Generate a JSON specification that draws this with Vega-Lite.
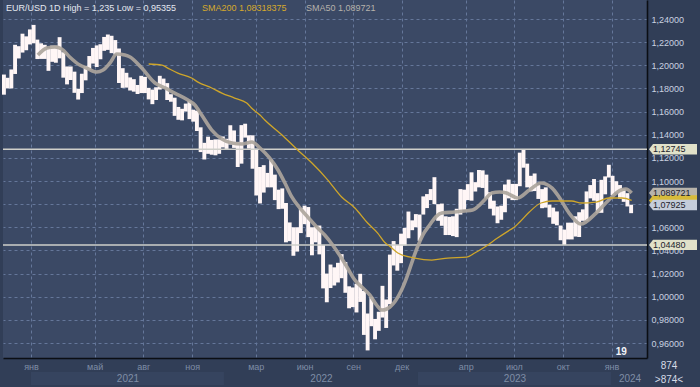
{
  "$schema": "https://vega.github.io/schema/vega-lite/v6.json",
  "width": 644,
  "height": 358,
  "autosize": {"type": "none"},
  "padding": {"left": 3, "top": 0, "right": 53, "bottom": 29},
  "background": "#313e57",
  "config": {
    "view": {"fill": "#3b4965", "stroke": null},
    "font": "Liberation Sans",
    "axis": {"gridColor": "#65779a", "gridDash": [3, 3], "gridWidth": 1, "labelFont": "Liberation Sans", "labelOverlap": false}
  },
  "datasets": {
    "price": [
      {"date": "2020-11-11", "low": 1.1746, "high": 1.1920},
      {"date": "2020-11-18", "low": 1.1800, "high": 1.1892},
      {"date": "2020-11-25", "low": 1.1800, "high": 1.1964},
      {"date": "2020-12-02", "low": 1.1925, "high": 1.2177},
      {"date": "2020-12-09", "low": 1.2059, "high": 1.2165},
      {"date": "2020-12-16", "low": 1.2110, "high": 1.2273},
      {"date": "2020-12-23", "low": 1.2130, "high": 1.2250},
      {"date": "2020-12-30", "low": 1.2180, "high": 1.2310},
      {"date": "2021-01-06", "low": 1.2190, "high": 1.2349},
      {"date": "2021-01-13", "low": 1.2054, "high": 1.2222},
      {"date": "2021-01-20", "low": 1.2055, "high": 1.2190},
      {"date": "2021-01-27", "low": 1.2055, "high": 1.2177},
      {"date": "2021-02-03", "low": 1.1952, "high": 1.2148},
      {"date": "2021-02-10", "low": 1.2030, "high": 1.2170},
      {"date": "2021-02-17", "low": 1.2022, "high": 1.2170},
      {"date": "2021-02-24", "low": 1.2060, "high": 1.2243},
      {"date": "2021-03-03", "low": 1.1893, "high": 1.2113},
      {"date": "2021-03-10", "low": 1.1835, "high": 1.1990},
      {"date": "2021-03-17", "low": 1.1873, "high": 1.1990},
      {"date": "2021-03-24", "low": 1.1762, "high": 1.1945},
      {"date": "2021-03-31", "low": 1.1704, "high": 1.1797},
      {"date": "2021-04-07", "low": 1.1760, "high": 1.1927},
      {"date": "2021-04-14", "low": 1.1870, "high": 1.1994},
      {"date": "2021-04-21", "low": 1.1960, "high": 1.2080},
      {"date": "2021-04-28", "low": 1.2015, "high": 1.2150},
      {"date": "2021-05-05", "low": 1.1985, "high": 1.2172},
      {"date": "2021-05-12", "low": 1.2052, "high": 1.2182},
      {"date": "2021-05-19", "low": 1.2125, "high": 1.2245},
      {"date": "2021-05-26", "low": 1.2133, "high": 1.2266},
      {"date": "2021-06-02", "low": 1.2105, "high": 1.2255},
      {"date": "2021-06-09", "low": 1.2093, "high": 1.2218},
      {"date": "2021-06-16", "low": 1.1847, "high": 1.2145},
      {"date": "2021-06-23", "low": 1.1805, "high": 1.1975},
      {"date": "2021-06-30", "low": 1.1807, "high": 1.1935},
      {"date": "2021-07-07", "low": 1.1782, "high": 1.1895},
      {"date": "2021-07-14", "low": 1.1772, "high": 1.1880},
      {"date": "2021-07-21", "low": 1.1752, "high": 1.1830},
      {"date": "2021-07-28", "low": 1.1760, "high": 1.1909},
      {"date": "2021-08-04", "low": 1.1760, "high": 1.1900},
      {"date": "2021-08-11", "low": 1.1705, "high": 1.1805},
      {"date": "2021-08-18", "low": 1.1664, "high": 1.1790},
      {"date": "2021-08-25", "low": 1.1700, "high": 1.1810},
      {"date": "2021-09-01", "low": 1.1790, "high": 1.1909},
      {"date": "2021-09-08", "low": 1.1800, "high": 1.1885},
      {"date": "2021-09-15", "low": 1.1700, "high": 1.1846},
      {"date": "2021-09-22", "low": 1.1685, "high": 1.1750},
      {"date": "2021-09-29", "low": 1.1563, "high": 1.1720},
      {"date": "2021-10-06", "low": 1.1529, "high": 1.1640},
      {"date": "2021-10-13", "low": 1.1524, "high": 1.1624},
      {"date": "2021-10-20", "low": 1.1600, "high": 1.1669},
      {"date": "2021-10-27", "low": 1.1535, "high": 1.1692},
      {"date": "2021-11-03", "low": 1.1513, "high": 1.1616},
      {"date": "2021-11-10", "low": 1.1432, "high": 1.1608},
      {"date": "2021-11-17", "low": 1.1250, "high": 1.1464},
      {"date": "2021-11-24", "low": 1.1186, "high": 1.1330},
      {"date": "2021-12-01", "low": 1.1235, "high": 1.1383},
      {"date": "2021-12-08", "low": 1.1227, "high": 1.1355},
      {"date": "2021-12-15", "low": 1.1222, "high": 1.1360},
      {"date": "2021-12-22", "low": 1.1235, "high": 1.1360},
      {"date": "2021-12-29", "low": 1.1290, "high": 1.1385},
      {"date": "2022-01-05", "low": 1.1272, "high": 1.1365},
      {"date": "2022-01-12", "low": 1.1315, "high": 1.1482},
      {"date": "2022-01-19", "low": 1.1286, "high": 1.1437},
      {"date": "2022-01-26", "low": 1.1121, "high": 1.1338},
      {"date": "2022-02-02", "low": 1.1150, "high": 1.1483},
      {"date": "2022-02-09", "low": 1.1375, "high": 1.1495},
      {"date": "2022-02-16", "low": 1.1280, "high": 1.1395},
      {"date": "2022-02-23", "low": 1.1106, "high": 1.1395},
      {"date": "2022-03-02", "low": 1.0875, "high": 1.1280},
      {"date": "2022-03-09", "low": 1.0806, "high": 1.1121},
      {"date": "2022-03-16", "low": 1.0900, "high": 1.1137},
      {"date": "2022-03-23", "low": 1.0945, "high": 1.1070},
      {"date": "2022-03-30", "low": 1.0945, "high": 1.1185},
      {"date": "2022-04-06", "low": 1.0835, "high": 1.1055},
      {"date": "2022-04-13", "low": 1.0757, "high": 1.0925},
      {"date": "2022-04-20", "low": 1.0760, "high": 1.0936},
      {"date": "2022-04-27", "low": 1.0470, "high": 1.0810},
      {"date": "2022-05-04", "low": 1.0480, "high": 1.0642},
      {"date": "2022-05-11", "low": 1.0354, "high": 1.0600},
      {"date": "2022-05-18", "low": 1.0390, "high": 1.0600},
      {"date": "2022-05-25", "low": 1.0550, "high": 1.0765},
      {"date": "2022-06-01", "low": 1.0627, "high": 1.0787},
      {"date": "2022-06-08", "low": 1.0515, "high": 1.0775},
      {"date": "2022-06-15", "low": 1.0358, "high": 1.0600},
      {"date": "2022-06-22", "low": 1.0470, "high": 1.0605},
      {"date": "2022-06-29", "low": 1.0366, "high": 1.0615},
      {"date": "2022-07-06", "low": 1.0072, "high": 1.0445},
      {"date": "2022-07-13", "low": 0.9952, "high": 1.0200},
      {"date": "2022-07-20", "low": 1.0075, "high": 1.0278},
      {"date": "2022-07-27", "low": 1.0097, "high": 1.0254},
      {"date": "2022-08-03", "low": 1.0123, "high": 1.0293},
      {"date": "2022-08-10", "low": 1.0160, "high": 1.0368},
      {"date": "2022-08-17", "low": 1.0034, "high": 1.0300},
      {"date": "2022-08-24", "low": 0.9900, "high": 1.0090},
      {"date": "2022-08-31", "low": 0.9910, "high": 1.0080},
      {"date": "2022-09-07", "low": 0.9864, "high": 1.0112},
      {"date": "2022-09-14", "low": 0.9955, "high": 1.0198},
      {"date": "2022-09-21", "low": 0.9670, "high": 1.0050},
      {"date": "2022-09-28", "low": 0.9536, "high": 0.9855},
      {"date": "2022-10-05", "low": 0.9745, "high": 0.9999},
      {"date": "2022-10-12", "low": 0.9632, "high": 0.9808},
      {"date": "2022-10-19", "low": 0.9705, "high": 0.9870},
      {"date": "2022-10-26", "low": 0.9820, "high": 1.0094},
      {"date": "2022-11-02", "low": 0.9730, "high": 0.9976},
      {"date": "2022-11-09", "low": 0.9935, "high": 1.0364},
      {"date": "2022-11-16", "low": 1.0270, "high": 1.0481},
      {"date": "2022-11-23", "low": 1.0225, "high": 1.0448},
      {"date": "2022-11-30", "low": 1.0290, "high": 1.0545},
      {"date": "2022-12-07", "low": 1.0443, "high": 1.0595},
      {"date": "2022-12-14", "low": 1.0505, "high": 1.0736},
      {"date": "2022-12-21", "low": 1.0575, "high": 1.0660},
      {"date": "2022-12-28", "low": 1.0600, "high": 1.0714},
      {"date": "2023-01-04", "low": 1.0483, "high": 1.0710},
      {"date": "2023-01-11", "low": 1.0710, "high": 1.0867},
      {"date": "2023-01-18", "low": 1.0766, "high": 1.0887},
      {"date": "2023-01-25", "low": 1.0835, "high": 1.0930},
      {"date": "2023-02-01", "low": 1.0800, "high": 1.1033},
      {"date": "2023-02-08", "low": 1.0656, "high": 1.0800},
      {"date": "2023-02-15", "low": 1.0613, "high": 1.0805},
      {"date": "2023-02-22", "low": 1.0533, "high": 1.0695},
      {"date": "2023-03-01", "low": 1.0533, "high": 1.0690},
      {"date": "2023-03-08", "low": 1.0524, "high": 1.0695},
      {"date": "2023-03-15", "low": 1.0515, "high": 1.0760},
      {"date": "2023-03-22", "low": 1.0710, "high": 1.0930},
      {"date": "2023-03-29", "low": 1.0750, "high": 1.0925},
      {"date": "2023-04-05", "low": 1.0835, "high": 1.0973},
      {"date": "2023-04-12", "low": 1.0830, "high": 1.1075},
      {"date": "2023-04-19", "low": 1.0909, "high": 1.0990},
      {"date": "2023-04-26", "low": 1.0945, "high": 1.1095},
      {"date": "2023-05-03", "low": 1.0940, "high": 1.1092},
      {"date": "2023-05-10", "low": 1.0850, "high": 1.1055},
      {"date": "2023-05-17", "low": 1.0760, "high": 1.0904},
      {"date": "2023-05-24", "low": 1.0702, "high": 1.0830},
      {"date": "2023-05-31", "low": 1.0635, "high": 1.0780},
      {"date": "2023-06-07", "low": 1.0665, "high": 1.0787},
      {"date": "2023-06-14", "low": 1.0730, "high": 1.0970},
      {"date": "2023-06-21", "low": 1.0850, "high": 1.1012},
      {"date": "2023-06-28", "low": 1.0835, "high": 1.0975},
      {"date": "2023-07-05", "low": 1.0835, "high": 1.0975},
      {"date": "2023-07-12", "low": 1.0955, "high": 1.1245},
      {"date": "2023-07-19", "low": 1.1115, "high": 1.1276},
      {"date": "2023-07-26", "low": 1.0945, "high": 1.1150},
      {"date": "2023-08-02", "low": 1.0910, "high": 1.1045},
      {"date": "2023-08-09", "low": 1.0913, "high": 1.1065},
      {"date": "2023-08-16", "low": 1.0845, "high": 1.0965},
      {"date": "2023-08-23", "low": 1.0765, "high": 1.0930},
      {"date": "2023-08-30", "low": 1.0770, "high": 1.0945},
      {"date": "2023-09-06", "low": 1.0686, "high": 1.0795},
      {"date": "2023-09-13", "low": 1.0630, "high": 1.0770},
      {"date": "2023-09-20", "low": 1.0617, "high": 1.0737},
      {"date": "2023-09-27", "low": 1.0488, "high": 1.0615},
      {"date": "2023-10-04", "low": 1.0448, "high": 1.0580},
      {"date": "2023-10-11", "low": 1.0495, "high": 1.0640},
      {"date": "2023-10-18", "low": 1.0495, "high": 1.0640},
      {"date": "2023-10-25", "low": 1.0520, "high": 1.0695},
      {"date": "2023-11-01", "low": 1.0516, "high": 1.0730},
      {"date": "2023-11-08", "low": 1.0656, "high": 1.0755},
      {"date": "2023-11-15", "low": 1.0655, "high": 1.0910},
      {"date": "2023-11-22", "low": 1.0850, "high": 1.0965},
      {"date": "2023-11-29", "low": 1.0830, "high": 1.1017},
      {"date": "2023-12-06", "low": 1.0723, "high": 1.0895},
      {"date": "2023-12-13", "low": 1.0725, "high": 1.1010},
      {"date": "2023-12-20", "low": 1.0885, "high": 1.1040},
      {"date": "2023-12-27", "low": 1.1030, "high": 1.1140},
      {"date": "2024-01-03", "low": 1.0877, "high": 1.1045},
      {"date": "2024-01-10", "low": 1.0900, "high": 1.0998},
      {"date": "2024-01-17", "low": 1.0845, "high": 1.0965},
      {"date": "2024-01-24", "low": 1.0820, "high": 1.0932},
      {"date": "2024-01-31", "low": 1.0780, "high": 1.0895},
      {"date": "2024-02-07", "low": 1.0722, "high": 1.0795}
    ],
    "sma": [
      {"series": "SMA50 1,089721", "date": "2021-01-14", "value": 1.2089},
      {"series": "SMA50 1,089721", "date": "2021-01-31", "value": 1.2150},
      {"series": "SMA50 1,089721", "date": "2021-02-15", "value": 1.2158},
      {"series": "SMA50 1,089721", "date": "2021-02-28", "value": 1.2141},
      {"series": "SMA50 1,089721", "date": "2021-03-15", "value": 1.2072},
      {"series": "SMA50 1,089721", "date": "2021-04-03", "value": 1.2002},
      {"series": "SMA50 1,089721", "date": "2021-04-16", "value": 1.1976},
      {"series": "SMA50 1,089721", "date": "2021-05-05", "value": 1.1942},
      {"series": "SMA50 1,089721", "date": "2021-05-17", "value": 1.1959},
      {"series": "SMA50 1,089721", "date": "2021-05-30", "value": 1.2020},
      {"series": "SMA50 1,089721", "date": "2021-06-12", "value": 1.2097},
      {"series": "SMA50 1,089721", "date": "2021-06-27", "value": 1.2089},
      {"series": "SMA50 1,089721", "date": "2021-07-07", "value": 1.2072},
      {"series": "SMA50 1,089721", "date": "2021-07-29", "value": 1.1976},
      {"series": "SMA50 1,089721", "date": "2021-08-23", "value": 1.1847},
      {"series": "SMA50 1,089721", "date": "2021-09-11", "value": 1.1804},
      {"series": "SMA50 1,089721", "date": "2021-09-29", "value": 1.1760},
      {"series": "SMA50 1,089721", "date": "2021-10-24", "value": 1.1700},
      {"series": "SMA50 1,089721", "date": "2021-11-06", "value": 1.1657},
      {"series": "SMA50 1,089721", "date": "2021-11-19", "value": 1.1570},
      {"series": "SMA50 1,089721", "date": "2021-12-08", "value": 1.1440},
      {"series": "SMA50 1,089721", "date": "2021-12-27", "value": 1.1363},
      {"series": "SMA50 1,089721", "date": "2022-01-15", "value": 1.1328},
      {"series": "SMA50 1,089721", "date": "2022-02-03", "value": 1.1320},
      {"series": "SMA50 1,089721", "date": "2022-02-22", "value": 1.1337},
      {"series": "SMA50 1,089721", "date": "2022-03-09", "value": 1.1285},
      {"series": "SMA50 1,089721", "date": "2022-03-27", "value": 1.1199},
      {"series": "SMA50 1,089721", "date": "2022-04-12", "value": 1.1095},
      {"series": "SMA50 1,089721", "date": "2022-04-25", "value": 1.0983},
      {"series": "SMA50 1,089721", "date": "2022-05-08", "value": 1.0862},
      {"series": "SMA50 1,089721", "date": "2022-05-23", "value": 1.0767},
      {"series": "SMA50 1,089721", "date": "2022-06-07", "value": 1.0689},
      {"series": "SMA50 1,089721", "date": "2022-06-24", "value": 1.0602},
      {"series": "SMA50 1,089721", "date": "2022-07-09", "value": 1.0533},
      {"series": "SMA50 1,089721", "date": "2022-07-24", "value": 1.0447},
      {"series": "SMA50 1,089721", "date": "2022-08-06", "value": 1.0360},
      {"series": "SMA50 1,089721", "date": "2022-08-20", "value": 1.0257},
      {"series": "SMA50 1,089721", "date": "2022-09-04", "value": 1.0144},
      {"series": "SMA50 1,089721", "date": "2022-09-17", "value": 1.0084},
      {"series": "SMA50 1,089721", "date": "2022-10-02", "value": 1.0015},
      {"series": "SMA50 1,089721", "date": "2022-10-15", "value": 0.9928},
      {"series": "SMA50 1,089721", "date": "2022-10-25", "value": 0.9885},
      {"series": "SMA50 1,089721", "date": "2022-11-03", "value": 0.9894},
      {"series": "SMA50 1,089721", "date": "2022-11-09", "value": 0.9911},
      {"series": "SMA50 1,089721", "date": "2022-12-01", "value": 1.0058},
      {"series": "SMA50 1,089721", "date": "2022-12-11", "value": 1.0170},
      {"series": "SMA50 1,089721", "date": "2022-12-22", "value": 1.0317},
      {"series": "SMA50 1,089721", "date": "2022-12-31", "value": 1.0430},
      {"series": "SMA50 1,089721", "date": "2023-01-10", "value": 1.0533},
      {"series": "SMA50 1,089721", "date": "2023-01-23", "value": 1.0620},
      {"series": "SMA50 1,089721", "date": "2023-02-05", "value": 1.0697},
      {"series": "SMA50 1,089721", "date": "2023-02-15", "value": 1.0723},
      {"series": "SMA50 1,089721", "date": "2023-03-11", "value": 1.0732},
      {"series": "SMA50 1,089721", "date": "2023-03-30", "value": 1.0741},
      {"series": "SMA50 1,089721", "date": "2023-04-14", "value": 1.0749},
      {"series": "SMA50 1,089721", "date": "2023-04-27", "value": 1.0792},
      {"series": "SMA50 1,089721", "date": "2023-05-10", "value": 1.0853},
      {"series": "SMA50 1,089721", "date": "2023-05-20", "value": 1.0896},
      {"series": "SMA50 1,089721", "date": "2023-06-04", "value": 1.0905},
      {"series": "SMA50 1,089721", "date": "2023-06-17", "value": 1.0896},
      {"series": "SMA50 1,089721", "date": "2023-07-02", "value": 1.0862},
      {"series": "SMA50 1,089721", "date": "2023-07-08", "value": 1.0853},
      {"series": "SMA50 1,089721", "date": "2023-07-30", "value": 1.0922},
      {"series": "SMA50 1,089721", "date": "2023-08-21", "value": 1.0983},
      {"series": "SMA50 1,089721", "date": "2023-09-11", "value": 1.0939},
      {"series": "SMA50 1,089721", "date": "2023-09-24", "value": 1.0862},
      {"series": "SMA50 1,089721", "date": "2023-10-13", "value": 1.0723},
      {"series": "SMA50 1,089721", "date": "2023-11-04", "value": 1.0628},
      {"series": "SMA50 1,089721", "date": "2023-12-03", "value": 1.0723},
      {"series": "SMA50 1,089721", "date": "2023-12-27", "value": 1.0836},
      {"series": "SMA50 1,089721", "date": "2024-01-19", "value": 1.0922},
      {"series": "SMA50 1,089721", "date": "2024-01-28", "value": 1.0931},
      {"series": "SMA50 1,089721", "date": "2024-02-08", "value": 1.0897},
      {"series": "SMA200 1,08318375", "date": "2021-08-11", "value": 1.2011},
      {"series": "SMA200 1,08318375", "date": "2021-09-05", "value": 1.2002},
      {"series": "SMA200 1,08318375", "date": "2021-09-16", "value": 1.1976},
      {"series": "SMA200 1,08318375", "date": "2021-10-05", "value": 1.1933},
      {"series": "SMA200 1,08318375", "date": "2021-10-31", "value": 1.1890},
      {"series": "SMA200 1,08318375", "date": "2021-11-12", "value": 1.1855},
      {"series": "SMA200 1,08318375", "date": "2021-12-08", "value": 1.1804},
      {"series": "SMA200 1,08318375", "date": "2021-12-27", "value": 1.1760},
      {"series": "SMA200 1,08318375", "date": "2022-01-20", "value": 1.1717},
      {"series": "SMA200 1,08318375", "date": "2022-02-12", "value": 1.1674},
      {"series": "SMA200 1,08318375", "date": "2022-02-23", "value": 1.1622},
      {"series": "SMA200 1,08318375", "date": "2022-03-09", "value": 1.1570},
      {"series": "SMA200 1,08318375", "date": "2022-03-18", "value": 1.1527},
      {"series": "SMA200 1,08318375", "date": "2022-04-19", "value": 1.1400},
      {"series": "SMA200 1,08318375", "date": "2022-05-19", "value": 1.1268},
      {"series": "SMA200 1,08318375", "date": "2022-06-15", "value": 1.1155},
      {"series": "SMA200 1,08318375", "date": "2022-07-15", "value": 1.1008},
      {"series": "SMA200 1,08318375", "date": "2022-08-10", "value": 1.0862},
      {"series": "SMA200 1,08318375", "date": "2022-09-04", "value": 1.0767},
      {"series": "SMA200 1,08318375", "date": "2022-09-28", "value": 1.0637},
      {"series": "SMA200 1,08318375", "date": "2022-10-17", "value": 1.0550},
      {"series": "SMA200 1,08318375", "date": "2022-10-30", "value": 1.0470},
      {"series": "SMA200 1,08318375", "date": "2022-11-09", "value": 1.0435},
      {"series": "SMA200 1,08318375", "date": "2022-11-24", "value": 1.0378},
      {"series": "SMA200 1,08318375", "date": "2022-12-26", "value": 1.0334},
      {"series": "SMA200 1,08318375", "date": "2023-01-27", "value": 1.0317},
      {"series": "SMA200 1,08318375", "date": "2023-02-26", "value": 1.0334},
      {"series": "SMA200 1,08318375", "date": "2023-04-03", "value": 1.0343},
      {"series": "SMA200 1,08318375", "date": "2023-04-18", "value": 1.0378},
      {"series": "SMA200 1,08318375", "date": "2023-05-07", "value": 1.0430},
      {"series": "SMA200 1,08318375", "date": "2023-05-31", "value": 1.0507},
      {"series": "SMA200 1,08318375", "date": "2023-06-23", "value": 1.0576},
      {"series": "SMA200 1,08318375", "date": "2023-07-02", "value": 1.0602},
      {"series": "SMA200 1,08318375", "date": "2023-07-12", "value": 1.0646},
      {"series": "SMA200 1,08318375", "date": "2023-07-30", "value": 1.0732},
      {"series": "SMA200 1,08318375", "date": "2023-08-21", "value": 1.0810},
      {"series": "SMA200 1,08318375", "date": "2023-09-11", "value": 1.0827},
      {"series": "SMA200 1,08318375", "date": "2023-10-18", "value": 1.0827},
      {"series": "SMA200 1,08318375", "date": "2023-11-06", "value": 1.0810},
      {"series": "SMA200 1,08318375", "date": "2023-12-03", "value": 1.0818},
      {"series": "SMA200 1,08318375", "date": "2023-12-27", "value": 1.0853},
      {"series": "SMA200 1,08318375", "date": "2024-01-21", "value": 1.0853},
      {"series": "SMA200 1,08318375", "date": "2024-02-08", "value": 1.0832}
    ],
    "levels": [
      {"level": 1.12745},
      {"level": 1.0448}
    ],
    "tags": [
      {"kind": "level", "label": "1,12745", "value": 1.12745},
      {"kind": "level", "label": "1,04480", "value": 1.0448},
      {"kind": "sma50", "label": "1,089721", "value": 1.089721},
      {"kind": "sma200", "label": "1,08318375", "value": 1.08318375},
      {"kind": "close", "label": "1,07925", "value": 1.07925}
    ],
    "years": [
      {"start": "2021-01-01", "end": "2021-12-31"},
      {"start": "2023-01-01", "end": "2023-12-31"}
    ]
  },
  "layer": [
    {
      "data": {"name": "price"},
      "mark": {"type": "rule", "color": "#fff6f6", "strokeWidth": 3.9},
      "encoding": {
        "x": {
          "field": "date", "type": "temporal", "title": null,
          "scale": {"domain": [{"year": 2020, "month": 11, "date": 9, "hours": 6, "utc": true}, {"year": 2024, "month": 3, "date": 7, "hours": 23, "utc": true}]},
          "axis": {
            "orient": "bottom", "tickCount": 40,
            "values": [
              {"year": 2021, "month": 1, "date": 1, "utc": true},
              {"year": 2021, "month": 5, "date": 1, "utc": true},
              {"year": 2021, "month": 8, "date": 1, "utc": true},
              {"year": 2021, "month": 11, "date": 1, "utc": true},
              {"year": 2022, "month": 3, "date": 1, "utc": true},
              {"year": 2022, "month": 6, "date": 1, "utc": true},
              {"year": 2022, "month": 9, "date": 1, "utc": true},
              {"year": 2022, "month": 12, "date": 1, "utc": true},
              {"year": 2023, "month": 4, "date": 1, "utc": true},
              {"year": 2023, "month": 7, "date": 1, "utc": true},
              {"year": 2023, "month": 10, "date": 1, "utc": true},
              {"year": 2024, "month": 1, "date": 1, "utc": true}
            ],
            "labelExpr": "['янв','фев','мар','апр','май','июн','июл','авг','сен','окт','ноя','дек'][utcmonth(datum.value)]",
            "grid": true, "ticks": false, "domain": true, "domainColor": "#0b0e14", "domainWidth": 1.6,
            "labelColor": "#7f8da6", "labelFontSize": 9, "labelPadding": 4, "labelFlush": false, "labelOverlap": false
          }
        },
        "y": {
          "field": "low", "type": "quantitative", "title": null,
          "scale": {"domain": [0.94704, 1.25642], "nice": false, "zero": false},
          "axis": {
            "orient": "right", "tickCount": 40,
            "values": [0.96, 0.98, 1.0, 1.02, 1.04, 1.06, 1.08, 1.1, 1.12, 1.14, 1.16, 1.18, 1.2, 1.22, 1.24],
            "labelExpr": "replace(format(datum.value, '.5f'), '.', ',')",
            "grid": true, "ticks": false, "domain": true, "domainColor": "#0b0e14", "domainWidth": 1.6,
            "labelColor": "#c9d1e0", "labelFontSize": 9, "labelPadding": 4, "labelBaseline": "middle",
            "labelFlush": false, "labelOverlap": false
          }
        },
        "y2": {"field": "high"}
      }
    },
    {
      "data": {"name": "levels"},
      "mark": {"type": "rule", "color": "#cfcfca", "strokeWidth": 1.5},
      "encoding": {
        "y": {"field": "level", "type": "quantitative", "title": null, "axis": {"orient": "right"}}
      }
    },
    {
      "data": {"name": "sma"},
      "transform": [{"filter": "indexof(datum.series, 'SMA50') >= 0"}],
      "mark": {"type": "line", "strokeWidth": 3.6, "opacity": 0.92, "interpolate": "monotone"},
      "encoding": {
        "x": {
          "field": "date", "type": "temporal", "title": null,
          "axis": {
            "orient": "bottom", "offset": 13, "zindex": 1, "tickCount": 40,
            "values": [
              {"year": 2021, "month": 7, "date": 2, "utc": true},
              {"year": 2022, "month": 7, "date": 2, "utc": true},
              {"year": 2023, "month": 7, "date": 2, "utc": true},
              {"year": 2024, "month": 2, "date": 4, "utc": true}
            ],
            "labelExpr": "utcyear(datum.value)",
            "grid": false, "ticks": false, "domain": false,
            "labelColor": "#7f8da6", "labelFontSize": 10, "labelPadding": 2, "labelFlush": false, "labelOverlap": false
          }
        },
        "y": {"field": "value", "type": "quantitative", "title": null, "axis": {"orient": "right"}},
        "color": {
          "field": "series", "type": "nominal",
          "scale": {"domain": ["SMA200 1,08318375", "SMA50 1,089721"], "range": ["#cfa62a", "#aca59c"]},
          "legend": {
            "orient": "top-left", "offset": 3, "direction": "horizontal", "padding": 0,
            "title": "EUR/USD 1D High = 1,235 Low = 0,95355", "titleOrient": "left", "titleColor": "#e4e8f0",
            "titleFont": "Liberation Sans", "titleFontSize": 9, "titleFontWeight": "normal", "titlePadding": 16,
            "titleLimit": 400, "titleBaseline": "middle",
            "labelFont": "Liberation Sans", "labelFontSize": 9, "labelLimit": 300,
            "labelColor": {"expr": "indexof(datum.label, 'SMA50') >= 0 ? '#b6b2ab' : '#d6aa2c'"},
            "symbolSize": 0, "symbolStrokeWidth": 0, "symbolOpacity": 0, "labelOffset": 0, "columnPadding": 10
          }
        }
      }
    },
    {
      "data": {"name": "sma"},
      "transform": [{"filter": "indexof(datum.series, 'SMA200') >= 0"}],
      "mark": {"type": "line", "strokeWidth": 1.3, "interpolate": "monotone"},
      "encoding": {
        "x": {"field": "date", "type": "temporal", "title": null, "axis": null},
        "y": {"field": "value", "type": "quantitative", "title": null, "axis": {"orient": "right"}},
        "color": {"field": "series", "type": "nominal"}
      }
    },
    {
      "data": {"name": "years"},
      "mark": {"type": "rect", "color": "#36445f", "clip": false},
      "encoding": {
        "x": {"field": "start", "type": "temporal", "axis": null},
        "x2": {"field": "end"},
        "y": {"datum": 0.9349, "type": "quantitative", "axis": {"orient": "right"}},
        "y2": {"datum": 0.9237}
      }
    },
    {
      "data": {"name": "tags"},
      "mark": {"type": "point", "shape": "M 2 0 L 6 -5.2 L 50 -5.2 L 50 5.2 L 6 5.2 Z", "size": 4, "filled": true, "opacity": 1, "strokeWidth": 0, "clip": false},
      "encoding": {
        "x": {"datum": {"year": 2024, "month": 3, "date": 7, "hours": 23, "utc": true}, "type": "temporal", "axis": null},
        "y": {"field": "value", "type": "quantitative", "title": null, "axis": {"orient": "right"}},
        "fill": {
          "field": "kind", "type": "nominal", "legend": null,
          "scale": {"domain": ["level", "sma50", "sma200", "close"], "range": ["#e1e1c9", "#b7b3ab", "#d8bb3a", "#c5cddb"]}
        }
      }
    },
    {
      "data": {"name": "tags"},
      "transform": [{"filter": "datum.kind != 'sma200'"}],
      "mark": {"type": "text", "align": "left", "baseline": "middle", "dx": 6, "fontSize": 9, "font": "Liberation Sans", "color": "#1c222c", "clip": false},
      "encoding": {
        "x": {"datum": {"year": 2024, "month": 3, "date": 7, "hours": 23, "utc": true}, "type": "temporal", "axis": null},
        "y": {"field": "value", "type": "quantitative", "title": null, "axis": {"orient": "right"}},
        "text": {"field": "label"}
      }
    },
    {
      "data": {"values": [{"t": "874"}]},
      "mark": {"type": "text", "align": "center", "baseline": "middle", "dx": 22, "fontSize": 10, "font": "Liberation Sans", "color": "#d5dbe6", "clip": false},
      "encoding": {
        "x": {"datum": {"year": 2024, "month": 3, "date": 7, "hours": 23, "utc": true}, "type": "temporal", "axis": null},
        "y": {"datum": 0.9401, "type": "quantitative", "axis": {"orient": "right"}},
        "text": {"field": "t"}
      }
    },
    {
      "data": {"values": [{"t": ">874<"}]},
      "mark": {"type": "text", "align": "center", "baseline": "middle", "dx": 22, "fontSize": 10, "font": "Liberation Sans", "color": "#d5dbe6", "clip": false},
      "encoding": {
        "x": {"datum": {"year": 2024, "month": 3, "date": 7, "hours": 23, "utc": true}, "type": "temporal", "axis": null},
        "y": {"datum": 0.928, "type": "quantitative", "axis": {"orient": "right"}},
        "text": {"field": "t"}
      }
    },
    {
      "data": {"values": [{"t": "19"}]},
      "mark": {"type": "text", "align": "left", "baseline": "middle", "fontSize": 10, "fontWeight": "bold", "font": "Liberation Sans", "color": "#f2f4f8"},
      "encoding": {
        "x": {"datum": {"year": 2024, "month": 1, "date": 9, "utc": true}, "type": "temporal", "axis": null},
        "y": {"datum": 0.9522, "type": "quantitative", "axis": {"orient": "right"}},
        "text": {"field": "t"}
      }
    }
  ],
  "resolve": {"axis": {"x": "independent"}, "scale": {"color": "shared"}}
}
